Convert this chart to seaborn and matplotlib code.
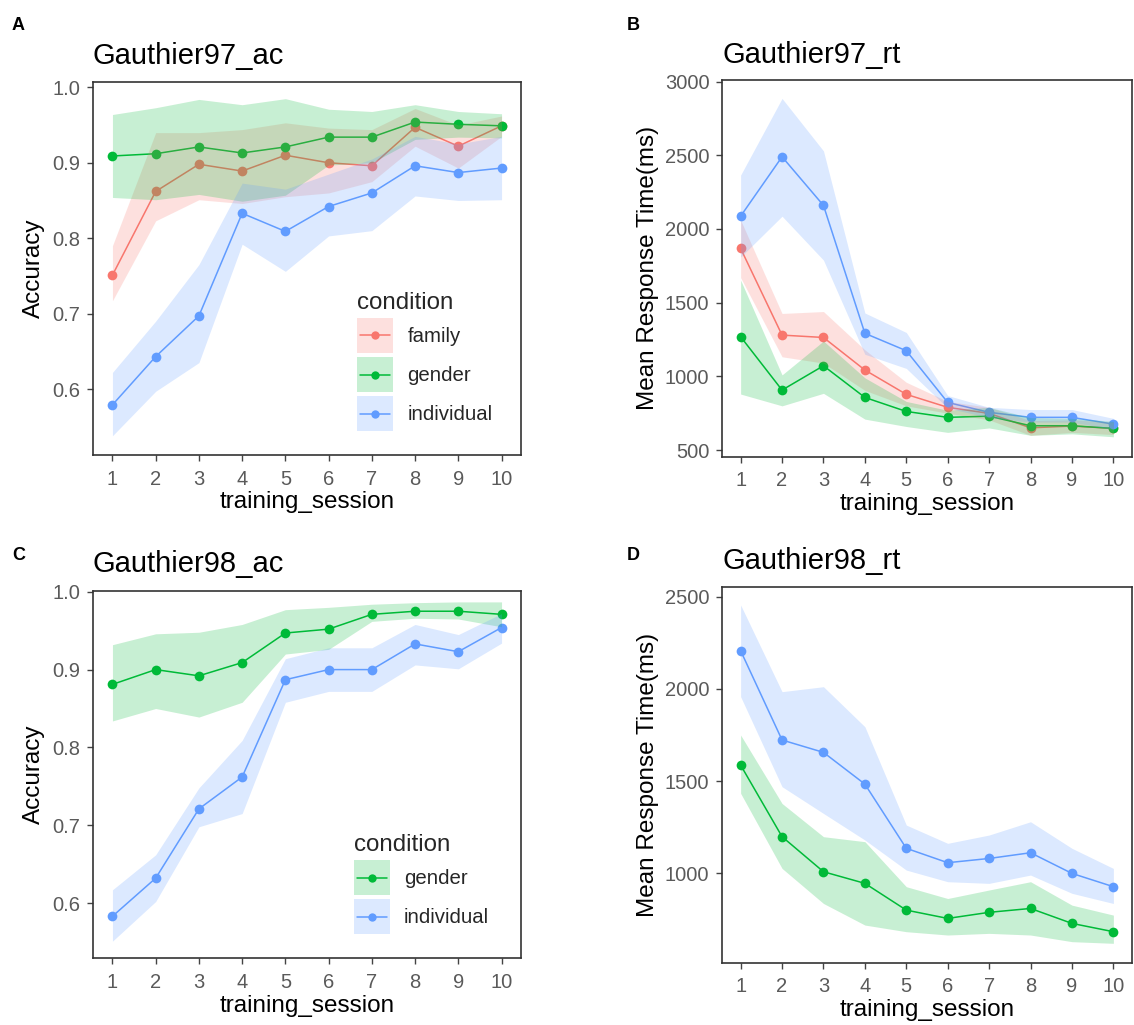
import numpy as np
import pandas as pd
import seaborn as sns
import matplotlib.pyplot as plt
from matplotlib.patches import Rectangle
from matplotlib.lines import Line2D
from matplotlib.legend_handler import HandlerBase

sessions = [1, 2, 3, 4, 5, 6, 7, 8, 9, 10]

# Gauthier97 accuracy
ac97_family = [0.751, 0.862, 0.898, 0.889, 0.910, 0.900, 0.896, 0.947, 0.922, 0.949]
ac97_family_lo = [0.717, 0.823, 0.851, 0.846, 0.855, 0.860, 0.875, 0.922, 0.893, 0.935]
ac97_family_hi = [0.790, 0.940, 0.940, 0.944, 0.953, 0.946, 0.944, 0.972, 0.950, 0.962]
ac97_gender = [0.909, 0.912, 0.921, 0.913, 0.921, 0.934, 0.934, 0.954, 0.951, 0.949]
ac97_gender_lo = [0.854, 0.851, 0.858, 0.849, 0.857, 0.897, 0.900, 0.931, 0.934, 0.933]
ac97_gender_hi = [0.964, 0.973, 0.984, 0.977, 0.985, 0.971, 0.968, 0.977, 0.968, 0.965]
ac97_indiv = [0.579, 0.643, 0.697, 0.833, 0.809, 0.842, 0.860, 0.896, 0.887, 0.893]
ac97_indiv_lo = [0.538, 0.597, 0.635, 0.792, 0.756, 0.803, 0.810, 0.856, 0.850, 0.851]
ac97_indiv_hi = [0.622, 0.690, 0.765, 0.873, 0.865, 0.885, 0.905, 0.935, 0.925, 0.935]

# Gauthier97 response time
rt97_family = [1868, 1280, 1264, 1043, 878, 790, 749, 651, 663, 647]
rt97_family_lo = [1670, 1133, 1090, 905, 800, 750, 705, 600, 620, 605]
rt97_family_hi = [2060, 1427, 1440, 1180, 960, 830, 790, 700, 705, 690]
rt97_gender = [1269, 907, 1072, 857, 762, 722, 730, 665, 665, 647]
rt97_gender_lo = [880, 800, 885, 710, 660, 620, 650, 600, 610, 590]
rt97_gender_hi = [1653, 1010, 1240, 990, 830, 770, 790, 720, 715, 695]
rt97_indiv = [2087, 2490, 2160, 1292, 1174, 823, 756, 722, 722, 676]
rt97_indiv_lo = [1810, 2087, 1789, 1150, 1054, 785, 720, 690, 690, 640]
rt97_indiv_hi = [2366, 2886, 2530, 1430, 1298, 870, 790, 775, 775, 715]

# Gauthier98 accuracy
ac98_gender = [0.881, 0.900, 0.892, 0.909, 0.947, 0.952, 0.971, 0.975, 0.975, 0.971]
ac98_gender_lo = [0.834, 0.850, 0.839, 0.858, 0.920, 0.926, 0.962, 0.966, 0.965, 0.955]
ac98_gender_hi = [0.932, 0.946, 0.948, 0.958, 0.977, 0.980, 0.984, 0.986, 0.987, 0.987]
ac98_indiv = [0.583, 0.632, 0.721, 0.762, 0.887, 0.900, 0.900, 0.933, 0.923, 0.954]
ac98_indiv_lo = [0.551, 0.602, 0.698, 0.715, 0.858, 0.872, 0.872, 0.906, 0.901, 0.934]
ac98_indiv_hi = [0.617, 0.662, 0.748, 0.809, 0.914, 0.928, 0.928, 0.958, 0.945, 0.972]

# Gauthier98 response time
rt98_gender = [1587, 1199, 1009, 946, 801, 756, 789, 810, 729, 684]
rt98_gender_lo = [1434, 1027, 837, 720, 684, 666, 675, 666, 630, 621]
rt98_gender_hi = [1750, 1379, 1199, 1172, 928, 864, 910, 955, 828, 774]
rt98_indiv = [2207, 1723, 1656, 1484, 1136, 1058, 1081, 1112, 1000, 928]
rt98_indiv_lo = [1958, 1470, 1325, 1181, 1018, 955, 946, 991, 892, 837]
rt98_indiv_hi = [2455, 1985, 2012, 1795, 1262, 1163, 1208, 1280, 1136, 1027]

palette = {'family': '#F8766D', 'gender': '#00BA38', 'individual': '#619CFF'}

sns.set_theme(style='white')
plt.rcParams['font.family'] = ['Liberation Sans', 'DejaVu Sans']

TICK_COLOR = '#5a5a5a'
RIBBON_ALPHA = 0.22


class RibbonKey(HandlerBase):
    # ggplot-style key: shaded square with a line and a dot through the middle
    def create_artists(self, legend, orig_handle, xdescent, ydescent, width,
                       height, fontsize, trans):
        color = orig_handle.get_color()
        x0, y0 = -xdescent, -ydescent
        rect = Rectangle((x0, y0), width, height, facecolor=color,
                         alpha=RIBBON_ALPHA, edgecolor='none', transform=trans)
        ymid = y0 + height / 2
        line = Line2D([x0 + 0.08 * width, x0 + 0.92 * width], [ymid, ymid],
                      color=color, linewidth=1.1, transform=trans)
        dot = Line2D([x0 + width / 2], [ymid], marker='o', markersize=6,
                     markeredgewidth=0, color=color, linestyle='none',
                     transform=trans)
        return [rect, line, dot]


def make_frame(series):
    rows = []
    for cond, (mean, lo, hi) in series.items():
        for s, m, l, h in zip(sessions, mean, lo, hi):
            rows.append({'training_session': s, 'condition': cond,
                         'value': m, 'lo': l, 'hi': h})
    return pd.DataFrame(rows)


def draw_panel(ax, df, title, ylabel, ylim, yticks, ylabel_x, title_pad, legend_at=None):
    conds = list(dict.fromkeys(df['condition']))
    sns.lineplot(data=df, x='training_session', y='value', hue='condition',
                 hue_order=conds, palette=palette, marker='o', markersize=7,
                 markeredgewidth=0, linewidth=1.1, errorbar=None,
                 legend=False, ax=ax, zorder=2)
    # ribbons go on top of the lines, as in the original
    for cond in conds:
        sub = df[df['condition'] == cond]
        ax.fill_between(sub['training_session'], sub['lo'], sub['hi'],
                        color=palette[cond], alpha=RIBBON_ALPHA, linewidth=0, zorder=3)

    ax.set_xlim(0.55, 10.45)
    ax.set_ylim(*ylim)
    ax.set_xticks(sessions)
    ax.set_yticks(yticks)
    ax.tick_params(axis='both', which='both', direction='out', length=4.5,
                   width=1, color='#444444', labelcolor=TICK_COLOR,
                   labelsize=14.5, bottom=True, left=True)
    ax.tick_params(axis='x', pad=6)
    ax.tick_params(axis='y', pad=4.5)
    for sp in ax.spines.values():
        sp.set_color('#333333')
        sp.set_linewidth(1.2)
    ax.set_xlabel('training_session', fontsize=17.5, color='black', labelpad=2)
    ax.set_ylabel(ylabel, fontsize=17.5, color='black')
    ax.yaxis.set_label_coords(ylabel_x, 0.5)
    ax.set_title(title, loc='left', fontsize=21, pad=title_pad, color='black')
    ax.grid(False)

    if legend_at is not None:
        handles = [Line2D([], [], color=palette[c]) for c in conds]
        leg = ax.legend(handles, conds, title='condition', loc='upper left',
                        bbox_to_anchor=legend_at, frameon=False, fontsize=14.7,
                        title_fontsize=17.4, handler_map={Line2D: RibbonKey()},
                        handlelength=1.76, handleheight=2.26, labelspacing=0.2,
                        handletextpad=0.7, borderpad=0, borderaxespad=0,
                        alignment='left')
        leg.set_zorder(5)


fig = plt.figure(figsize=(11.34, 10.25), dpi=100)
W, H = 1134, 1025


def add_axes(left, top, right, bottom):
    return fig.add_axes([left / W, 1 - bottom / H, (right - left) / W, (bottom - top) / H])


axA = add_axes(93, 81.7, 521, 455)
axB = add_axes(722, 80, 1132, 456.7)
axC = add_axes(93, 591, 521, 958.3)
axD = add_axes(722, 586.7, 1132, 962.7)

dfA = make_frame({'family': (ac97_family, ac97_family_lo, ac97_family_hi),
                  'gender': (ac97_gender, ac97_gender_lo, ac97_gender_hi),
                  'individual': (ac97_indiv, ac97_indiv_lo, ac97_indiv_hi)})
dfB = make_frame({'family': (rt97_family, rt97_family_lo, rt97_family_hi),
                  'gender': (rt97_gender, rt97_gender_lo, rt97_gender_hi),
                  'individual': (rt97_indiv, rt97_indiv_lo, rt97_indiv_hi)})
dfC = make_frame({'gender': (ac98_gender, ac98_gender_lo, ac98_gender_hi),
                  'individual': (ac98_indiv, ac98_indiv_lo, ac98_indiv_hi)})
dfD = make_frame({'gender': (rt98_gender, rt98_gender_lo, rt98_gender_hi),
                  'individual': (rt98_indiv, rt98_indiv_lo, rt98_indiv_hi)})

draw_panel(axA, dfA, 'Gauthier97_ac', 'Accuracy', (0.5125, 1.0075),
           [0.6, 0.7, 0.8, 0.9, 1.0], -0.113, 13, legend_at=(0.617, 0.437))
draw_panel(axB, dfB, 'Gauthier97_rt', 'Mean Response Time(ms)', (455, 3011),
           [500, 1000, 1500, 2000, 2500, 3000], -0.153, 12)
draw_panel(axC, dfC, 'Gauthier98_ac', 'Accuracy', (0.529, 1.001),
           [0.6, 0.7, 0.8, 0.9, 1.0], -0.113, 14, legend_at=(0.609, 0.338))
draw_panel(axD, dfD, 'Gauthier98_rt', 'Mean Response Time(ms)', (516, 2554),
           [1000, 1500, 2000, 2500], -0.153, 13)

for letter, x, y in [('A', 12, 30.5), ('B', 627, 30), ('C', 12, 560), ('D', 627, 560)]:
    fig.text(x / W, 1 - y / H, letter, fontsize=13, fontweight='bold',
             ha='left', va='baseline', color='black')

fig.savefig('out.png', dpi=100, facecolor='white')
